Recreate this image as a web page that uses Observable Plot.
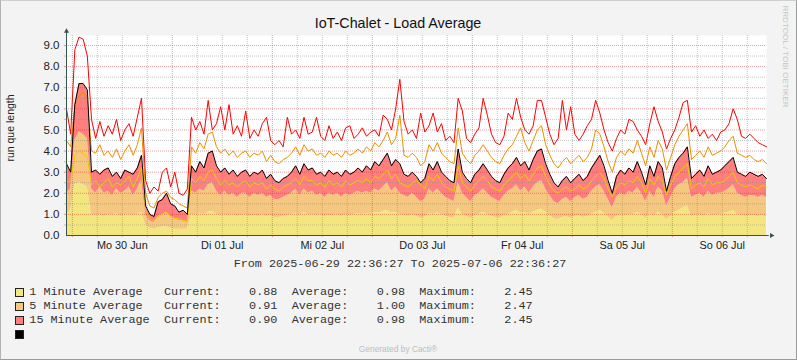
<!DOCTYPE html>
<html>
<head>
<meta charset="utf-8">
<script src="https://cdn.jsdelivr.net/npm/d3@7"></script>
<script src="https://cdn.jsdelivr.net/npm/@observablehq/plot@0.6"></script>
<style>
  html, body { margin: 0; padding: 0; background: #f3f3f3; }
  #wrap { position: relative; width: 797px; height: 360px; background: #f3f3f3; overflow: hidden; }
  #wrap > svg { position: absolute; left: 0; top: 0; }
  #border { position: absolute; left: 0; top: 0; width: 797px; height: 360px; box-sizing: border-box;
            border-top: 1px solid #cfcfcf; border-left: 1px solid #b4b4b4; border-right: 1px solid #9a9a9a; border-bottom: 1px solid #9a9a9a; }
</style>
</head>
<body>
<div id="wrap"><div id="plot"></div><div id="border"></div></div>
<script>
// ---- time range ----
const startTime = new Date(Date.UTC(2025, 5, 29, 22, 36, 27));
const endTime = new Date(Date.UTC(2025, 6, 6, 22, 36, 27));

// ---- hourly samples (stacked values) ----
// top of yellow area (1 minute average)
const load1Stack = [
  1.0, 1.2, 2.4, 2.5, 2.4, 2.3, 1.0, 0.95, 1.0, 0.9,
  1.0, 0.95, 1.05, 0.9, 1.0, 1.0, 0.95, 1.0, 1.1, 0.5,
  0.35, 0.3, 0.35, 0.4, 0.4, 0.35, 0.3, 0.3, 0.3, 0.3,
  1.0, 1.0, 1.05, 1.0, 1.1, 1.15, 1.0, 0.95, 1.0, 0.95,
  1.0, 0.9, 0.95, 1.0, 0.9, 0.95, 0.9, 1.0, 0.9, 0.95,
  0.85, 0.85, 0.9, 0.95, 1.0, 1.05, 0.95, 1.1, 1.0, 1.0,
  0.95, 1.0, 0.9, 0.95, 0.95, 1.0, 0.9, 1.0, 0.95, 1.0,
  1.05, 1.0, 1.05, 1.0, 1.1, 1.05, 1.15, 1.2, 1.05, 1.1,
  1.0, 0.95, 0.9, 1.0, 0.9, 0.8, 0.85, 1.05, 1.0, 1.1,
  1.0, 0.9, 0.85, 0.8, 1.3, 1.0, 0.9, 0.8, 0.95, 1.0,
  1.1, 1.0, 0.9, 0.85, 0.8, 0.95, 1.0, 1.1, 1.2, 1.05,
  1.1, 1.0, 1.1, 1.2, 1.25, 1.1, 0.95, 0.8, 0.75, 0.85,
  0.9, 0.8, 0.9, 0.95, 0.85, 0.9, 1.0, 1.1, 1.2, 1.05,
  0.85, 0.7, 0.9, 1.0, 0.95, 1.0, 1.0, 1.1, 1.0, 0.8,
  1.05, 0.9, 1.1, 1.0, 0.75, 0.9, 1.1, 1.2, 1.3, 1.4,
  0.9, 0.95, 1.0, 0.9, 1.05, 0.95, 1.0, 1.0, 1.05, 1.1,
  1.2, 1.0, 0.95, 0.9, 0.95, 0.95, 0.9, 0.95, 0.88
];
// top of orange area (1 + 5 minute)
const load5Stack = [
  2.0, 2.2, 4.5, 4.9, 4.8, 4.6, 2.2, 2.0, 2.3, 2.0,
  2.1, 1.9, 2.2, 2.0, 2.1, 2.3, 1.9, 2.2, 2.6, 1.0,
  0.7, 0.6, 0.9, 1.0, 1.1, 0.9, 0.8, 0.7, 0.7, 0.6,
  2.1, 2.0, 2.2, 2.1, 2.4, 2.5, 2.1, 1.9, 2.1, 1.9,
  2.0, 1.8, 2.0, 2.0, 1.8, 2.0, 1.9, 2.0, 1.8, 1.9,
  1.7, 1.7, 1.8, 1.9, 2.0, 2.2, 1.9, 2.2, 2.0, 2.1,
  1.9, 2.0, 1.8, 2.0, 1.9, 2.0, 1.8, 2.0, 1.9, 2.0,
  2.1, 2.0, 2.1, 2.0, 2.2, 2.1, 2.3, 2.5, 2.1, 2.3,
  2.0, 1.9, 1.8, 2.0, 1.8, 1.6, 1.7, 2.2, 2.0, 2.2,
  2.0, 1.8, 1.7, 1.6, 2.5, 2.0, 1.8, 1.6, 1.9, 2.0,
  2.2, 2.0, 1.8, 1.7, 1.6, 1.9, 2.1, 2.2, 2.4, 2.1,
  2.3, 2.0, 2.3, 2.5, 2.6, 2.2, 1.9, 1.6, 1.5, 1.7,
  1.8, 1.6, 1.8, 1.9, 1.7, 1.8, 2.1, 2.3, 2.4, 2.1,
  1.7, 1.3, 1.8, 2.0, 1.9, 2.1, 2.0, 2.3, 2.0, 1.6,
  2.1, 1.8, 2.3, 2.1, 1.4, 1.8, 2.2, 2.4, 2.5, 2.7,
  1.8, 1.9, 2.0, 1.8, 2.1, 1.9, 2.0, 2.0, 2.1, 2.2,
  2.4, 2.0, 1.9, 1.8, 1.9, 1.9, 1.8, 1.9, 1.8
];
// top of red area = black line (1 + 5 + 15 minute)
const load15Stack = [
  3.4, 3.0, 6.2, 7.2, 7.2, 6.9, 3.0, 3.1, 2.9, 3.1,
  3.2, 2.8, 3.0, 2.7, 3.1, 3.0, 2.9, 3.2, 3.8, 1.4,
  1.0, 0.9, 1.6, 1.7, 2.0, 1.5, 1.4, 1.1, 1.2, 1.0,
  3.3, 3.0, 3.5, 3.2, 3.9, 4.0, 3.3, 3.0, 3.2, 2.9,
  3.1, 2.8, 3.0, 3.1, 2.8, 3.0, 2.9, 3.1, 2.7, 2.9,
  2.6, 2.5, 2.7, 2.8, 3.0, 3.3, 2.9, 3.4, 3.1, 3.2,
  2.9, 3.0, 2.8, 3.1, 2.9, 3.0, 2.8, 3.1, 2.9, 3.0,
  3.2, 3.0, 3.3, 3.1, 3.5, 3.3, 3.6, 3.9, 3.3, 3.6,
  3.4, 2.9, 2.8, 3.0, 2.8, 2.5, 2.7, 3.4, 3.1, 3.5,
  3.0, 2.8, 2.6, 2.5, 4.1, 3.0, 2.7, 2.5, 2.9, 3.1,
  3.4, 3.1, 2.8, 2.6, 2.5, 2.9, 3.2, 3.4, 3.7, 3.3,
  3.5, 3.1, 3.6, 4.0, 4.1, 3.4, 2.9, 2.5, 2.3, 2.6,
  2.8, 2.5, 2.7, 2.9, 2.6, 2.8, 3.2, 3.5, 3.8, 3.3,
  2.6, 2.0, 2.8, 3.1, 2.9, 3.2, 3.0, 3.5, 3.0, 2.4,
  3.3, 2.8, 3.5, 3.2, 2.1, 2.8, 3.4, 3.7, 3.9, 4.2,
  2.7, 2.9, 3.1, 2.8, 3.3, 2.9, 3.0, 3.1, 3.3, 3.5,
  3.7, 3.0, 2.9, 2.8, 3.0, 2.9, 2.8, 2.9, 2.7
];
// yellow line
const line1 = [
  2.5, 2.6, 3.8, 4.0, 3.9, 3.7, 2.4, 2.6, 2.3, 2.5,
  2.7, 2.3, 2.5, 2.4, 2.6, 2.8, 2.3, 2.7, 3.2, 1.2,
  0.8, 0.7, 0.9, 1.0, 1.1, 0.9, 0.8, 0.8, 0.7, 0.7,
  2.7, 2.5, 2.8, 2.6, 3.0, 3.1, 2.7, 2.4, 2.6, 2.4,
  2.5, 2.3, 2.5, 2.6, 2.3, 2.5, 2.4, 2.5, 2.2, 2.4,
  2.2, 2.1, 2.3, 2.4, 2.5, 2.7, 2.4, 2.8, 2.6, 2.6,
  2.4, 2.5, 2.3, 2.6, 2.4, 2.5, 2.3, 2.6, 2.4, 2.5,
  2.6, 2.5, 2.7, 2.5, 2.8, 2.7, 2.9, 3.1, 2.7, 2.9,
  2.5, 2.4, 2.3, 2.5, 2.6, 2.4, 2.2, 2.8, 2.6, 2.9,
  2.5, 2.3, 2.2, 2.1, 3.3, 2.5, 2.3, 2.1, 2.4, 2.6,
  2.8, 2.6, 2.3, 2.2, 2.1, 2.4, 2.6, 2.8, 3.0, 2.7,
  2.9, 2.6, 2.9, 3.2, 3.3, 2.8, 2.4, 2.1, 2.0, 2.2,
  2.3, 2.1, 2.2, 2.4, 2.2, 2.3, 2.6, 2.8, 3.0, 2.7,
  2.2, 1.8, 2.3, 2.5, 2.4, 2.6, 2.5, 2.8, 2.5, 2.0,
  2.7, 2.4, 2.8, 2.6, 1.9, 2.4, 2.8, 3.0, 3.2, 3.4,
  2.2, 2.4, 2.5, 2.3, 2.7, 2.4, 2.5, 2.5, 2.6, 2.8,
  3.0, 2.5, 2.4, 2.3, 2.4, 2.3, 2.2, 2.4, 2.3
];
// orange line
const line5 = [
  4.5, 4.2, 6.2, 6.6, 6.8, 6.4, 4.0, 3.9, 4.3, 3.8,
  4.0, 3.7, 4.1, 3.6, 4.0, 4.3, 3.8, 4.3, 5.1, 2.0,
  1.4, 1.3, 1.8, 2.0, 2.1, 1.8, 1.7, 1.5, 1.4, 1.3,
  4.2, 3.9, 4.4, 4.1, 4.8, 4.9, 4.2, 3.9, 4.1, 3.8,
  4.0, 3.7, 3.9, 4.0, 3.7, 3.9, 3.8, 4.0, 3.5, 3.8,
  3.5, 3.4, 3.6, 3.7, 3.9, 4.2, 3.8, 4.3, 4.0, 4.1,
  3.8, 3.9, 3.7, 4.0, 3.8, 3.9, 3.7, 4.0, 3.8, 3.9,
  4.1, 3.9, 4.2, 4.0, 4.4, 4.2, 4.5, 4.9, 4.3, 4.6,
  5.7, 3.8, 3.7, 3.9, 3.7, 3.3, 3.5, 4.3, 4.0, 4.4,
  3.9, 3.7, 3.5, 3.4, 5.1, 3.9, 3.6, 3.4, 3.8, 4.0,
  4.3, 4.0, 3.7, 3.5, 3.4, 3.8, 4.1, 4.3, 4.7, 5.1,
  4.4, 4.0, 4.5, 5.0, 5.2, 4.3, 3.8, 3.4, 3.2, 3.5,
  3.7, 3.4, 3.6, 3.8, 3.5, 3.7, 4.1, 5.0, 4.8, 4.2,
  3.5, 3.0, 3.7, 4.0, 3.8, 4.1, 3.9, 4.5, 3.9, 3.3,
  4.2, 3.7, 4.5, 4.1, 3.1, 3.7, 4.3, 4.7, 5.0, 5.3,
  3.6, 3.8, 4.0, 3.7, 4.2, 3.8, 3.9, 4.0, 4.2, 4.5,
  4.7, 3.9, 3.8, 3.7, 3.8, 3.6, 3.5, 3.6, 3.4
];
// red line
const line15 = [
  6.0, 4.8, 8.8, 9.4, 9.3, 8.5, 5.5, 4.6, 5.4, 4.7,
  5.2, 4.8, 5.5, 4.5, 5.0, 5.3, 4.7, 5.6, 6.5, 2.6,
  2.0, 2.3, 2.1, 3.0, 3.2, 2.3, 3.0, 2.0, 1.9, 2.2,
  5.6, 5.0, 5.4, 4.8, 6.4, 5.0, 5.3, 6.1, 5.0, 6.2,
  4.8, 5.2, 4.7, 5.9, 4.6, 5.0, 4.7, 5.3, 5.6, 4.5,
  4.3, 4.5, 4.2, 5.6, 4.8, 5.0, 4.6, 5.6, 4.8, 4.9,
  5.6, 4.7, 4.5, 5.2, 4.6, 4.9, 4.5, 5.1, 5.2, 4.6,
  4.8, 5.1, 4.7, 4.9, 5.0, 4.7, 5.7, 5.5, 5.0, 6.0,
  7.4, 5.4, 4.8, 5.0, 4.6, 5.8, 4.9, 5.2, 5.8, 4.9,
  5.3, 4.5, 4.7, 4.4, 6.5, 5.9, 4.6, 4.4, 4.8, 5.1,
  6.5, 5.7, 4.8, 4.4, 4.3, 4.7, 5.8, 5.5, 6.5, 5.6,
  5.0, 4.8, 5.2, 6.4, 6.4, 5.6, 4.8, 4.3, 4.6, 6.4,
  5.0, 6.1, 4.8, 4.5, 4.8, 5.2, 5.5, 6.4, 5.8, 5.0,
  4.4, 4.0, 4.6, 5.0, 4.8, 5.5, 5.4, 5.0, 4.7, 4.3,
  5.3, 6.1, 5.4, 4.9, 4.1, 4.6, 5.0, 5.6, 6.3, 6.4,
  4.9, 5.2, 4.7, 5.0, 4.6, 4.8, 4.5, 4.9, 5.0, 5.3,
  6.0, 5.5, 4.7, 4.6, 4.8, 4.6, 4.4, 4.3, 4.2
];

// ---- axis ticks and labels ----
const yTickValues = [0, 1, 2, 3, 4, 5, 6, 7, 8, 9];
const yTickLabels = ["0.0", "1.0", "2.0", "3.0", "4.0", "5.0", "6.0", "7.0", "8.0", "9.0"];
const yMinorValues = [0.5, 1.5, 2.5, 3.5, 4.5, 5.5, 6.5, 7.5, 8.5];
const xTickLabels = ["Mo 30 Jun", "Di 01 Jul", "Mi 02 Jul", "Do 03 Jul", "Fr 04 Jul", "Sa 05 Jul", "So 06 Jul"];

// ---- texts ----
const titleText = "IoT-Chalet - Load Average";
const yAxisLabel = "run que length";
const rangeText = "From 2025-06-29 22:36:27 To 2025-07-06 22:36:27";
const seriesNames = ["1 Minute Average", "5 Minute Average", "15 Minute Average", ""];
const currentVals = ["0.88", "0.91", "0.90"];
const averageVals = ["0.98", "1.00", "0.98"];
const maximumVals = ["2.45", "2.47", "2.45"];
const swatchColors = ["#F4E67F", "#F5C77F", "#FF7F7F", "#000000"];

// ---- build ----
const rows = load1Stack.map((v, i) => ({
  t: d3.utcHour.offset(startTime, i),
  a1: v, a2: load5Stack[i], a3: load15Stack[i],
  l1: line1[i], l2: line5[i], l3: line15[i]
}));

const yMax = 9.474;
const majorT = d3.utcDay.range(startTime, endTime);
const minorT = d3.utcHour.every(6).range(startTime, endTime).filter(d => d.getUTCHours() !== 0);
const labelT = majorT.map(d => d3.utcHour.offset(d, 12));
const arrowXT = d3.utcMinute.offset(endTime, 72);
const tickLeftT = d3.utcMinute.offset(startTime, -30);

const majorCol = "rgba(205,40,40,0.45)";
const minorCol = "rgba(130,130,130,0.45)";
const axisCol = "#35554d";
const plotH = 262;

const chart = Plot.plot({
  width: 797,
  height: plotH,
  marginLeft: 66,
  marginRight: 31,
  marginTop: 35,
  marginBottom: plotH - 235,
  x: {type: "utc", domain: [startTime, endTime], axis: null},
  y: {domain: [0, yMax], axis: null},
  style: {background: "transparent", overflow: "visible", fontFamily: "'Liberation Sans', Arial, sans-serif"},
  marks: [
    Plot.frame({fill: "#ffffff", stroke: null}),
    Plot.areaY(rows, {x: "t", y1: 0, y2: "a1", fill: "#F4E67F"}),
    Plot.areaY(rows, {x: "t", y1: "a1", y2: "a2", fill: "#F5C77F"}),
    Plot.areaY(rows, {x: "t", y1: "a2", y2: "a3", fill: "#FF7F7F"}),
    Plot.ruleY(yMinorValues, {stroke: minorCol, strokeDasharray: "1,1"}),
    Plot.ruleX(minorT, {stroke: minorCol, strokeDasharray: "1,1"}),
    Plot.ruleY(yTickValues.filter(d => d > 0), {stroke: majorCol, strokeDasharray: "1,1"}),
    Plot.ruleX(majorT, {stroke: majorCol, strokeDasharray: "1,1"}),
    // small ticks outside the axes
    Plot.ruleX(minorT, {y1: 0, y2: -0.1, stroke: minorCol}),
    Plot.ruleX(majorT, {y1: 0, y2: -0.1, stroke: majorCol}),
    Plot.ruleY(yMinorValues, {x1: () => tickLeftT, x2: () => startTime, stroke: minorCol}),
    Plot.ruleY(yTickValues.filter(d => d > 0), {x1: () => tickLeftT, x2: () => startTime, stroke: majorCol}),
    // lines
    Plot.lineY(rows, {x: "t", y: "l1", stroke: "#EACC00", strokeWidth: 1}),
    Plot.lineY(rows, {x: "t", y: "l2", stroke: "#EA8F00", strokeWidth: 1}),
    Plot.lineY(rows, {x: "t", y: "l3", stroke: "#FF0000", strokeWidth: 1}),
    Plot.lineY(rows, {x: "t", y: "a3", stroke: "#000000", strokeWidth: 1}),
    // axes with arrows
    Plot.ruleY([0], {x1: () => startTime, x2: () => d3.utcMinute.offset(endTime, 40), stroke: axisCol}),
    Plot.ruleX([startTime], {y1: 0, y2: 9.62, stroke: axisCol}),
    Plot.dot([startTime], {x: d => d, y: () => 9.68, symbol: "triangle", r: 1.9, fill: axisCol, stroke: "none"}),
    Plot.dot([arrowXT], {x: d => d, y: () => 0, symbol: "triangle", r: 1.9, fill: axisCol, stroke: "none", rotate: 90}),
    // tick labels
    Plot.text(yTickValues, {x: () => startTime, y: d => d, text: yTickLabels, textAnchor: "end", dx: -7, fontSize: 11.5, fill: "#222"}),
    Plot.text(labelT, {x: d => d, y: () => 0, text: xTickLabels, dy: 9.5, fontSize: 10.9, fill: "#222"})
  ]
});
document.getElementById("plot").appendChild(chart);

// ---- annotations: title, labels, legend ----
const svg = d3.select("#wrap").append("svg")
  .attr("width", 797).attr("height", 360)
  .style("pointer-events", "none");

svg.append("text").attr("x", 398).attr("y", 28)
  .attr("text-anchor", "middle")
  .attr("font-family", "'Liberation Sans', Arial, sans-serif")
  .attr("font-size", 14.3).attr("fill", "#111").text(titleText);

svg.append("text").attr("transform", "translate(13.5,128) rotate(-90)")
  .attr("text-anchor", "middle")
  .attr("font-family", "'Liberation Sans', Arial, sans-serif")
  .attr("font-size", 10.5).attr("fill", "#222").text(yAxisLabel);

svg.append("text").attr("transform", "translate(783,56.5) rotate(90)")
  .attr("text-anchor", "middle")
  .attr("font-family", "'Liberation Sans', Arial, sans-serif")
  .attr("font-size", 8.1).attr("fill", "#c4c4c4").text("RRDTOOL / TOBI OETIKER");

svg.append("text").attr("x", 400).attr("y", 266.5)
  .attr("text-anchor", "middle")
  .attr("font-family", "'Liberation Mono', monospace")
  .attr("font-size", 11.8).attr("fill", "#333").text(rangeText);

svg.append("text").attr("x", 398).attr("y", 352)
  .attr("text-anchor", "middle")
  .attr("font-family", "'Liberation Sans', Arial, sans-serif")
  .attr("font-size", 8.4).attr("fill", "#bdbdbd").text("Generated by Cacti®");

const cw = 7.09, x0 = 29.3;
const mono = "'Liberation Mono', monospace";
seriesNames.forEach((name, i) => {
  const sy = 288 + 14 * i;
  svg.append("rect").attr("x", 15.5).attr("y", sy + 0.5).attr("width", 8).attr("height", 8)
    .attr("fill", swatchColors[i]).attr("stroke", "#222").attr("stroke-width", 1);
  if (i >= 3) return;
  const by = 295 + 14 * i;
  const add = (x, txt, anchor) => svg.append("text").attr("x", x).attr("y", by)
    .attr("text-anchor", anchor || "start").attr("font-family", mono)
    .attr("font-size", 11.8).attr("fill", "#333").text(txt);
  add(x0, name);
  add(x0 + 19 * cw, "Current:");
  add(x0 + 35 * cw, currentVals[i], "end");
  add(x0 + 37 * cw, "Average:");
  add(x0 + 53 * cw, averageVals[i], "end");
  add(x0 + 55 * cw, "Maximum:");
  add(x0 + 71 * cw, maximumVals[i], "end");
});
</script>
</body>
</html>
